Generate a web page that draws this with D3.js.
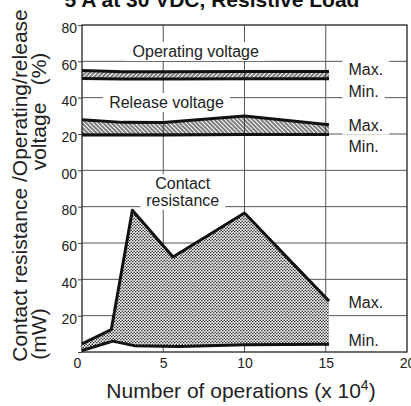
<!DOCTYPE html>
<html>
<head>
<meta charset="utf-8">
<script src="https://cdn.jsdelivr.net/npm/d3@7"></script>
<style>
  body { margin: 0; background: #fff; }
  svg { display: block; font-family: Arial, "Liberation Sans", Helvetica, sans-serif; }
  .tick text { font-family: "Liberation Sans Narrow", "Arial Narrow", sans-serif; font-size: 14px; fill: #222; }
</style>
</head>
<body>
<svg id="chart" width="411" height="406"></svg>
<script>
// number of operations (x 10^4) for the voltage bands
const voltX = [0, 2.5, 5, 10, 15.2];
const operatingMax = [55.0, 54.2, 54.3, 54.4, 54.4];
const operatingMin = [50.5, 50.3, 50.3, 50.4, 50.4];
const releaseMax = [27.8, 26.4, 26.3, 29.9, 25.1];
const releaseMin = [19.5, 19.4, 19.5, 19.7, 19.7];

// contact resistance (mW)
const contactMaxX = [0, 1.8, 3.1, 5.6, 10, 15.2];
const contactMax = [4.5, 12.3, 78, 52.3, 76.5, 28];
const contactMinX = [0, 1.9, 3.2, 6, 10, 15.2];
const contactMin = [0.8, 6, 3.5, 3, 4, 4.3];

const xTicks = [0, 5, 10, 15, 20];
const yTicks = [0, 20, 40, 60, 80, 100, 120, 140, 160, 180];
const yTickLabels = ["", "20", "40", "60", "80", "00", "20", "40", "60", "80"];

// voltage % sits on top of the resistance scale, shifted by 100
const VOLT_OFFSET = 100;

const svg = d3.select("#chart");

const x = d3.scaleLinear().domain([0, 20]).range([82, 407]);
const y = d3.scaleLinear().domain([0, 180]).range([352, 25]);
const yV = v => y(v + VOLT_OFFSET);

// patterns
const defs = svg.append("defs");
defs.append("pattern")
    .attr("id", "hatchUp")
    .attr("patternUnits", "userSpaceOnUse")
    .attr("width", 3).attr("height", 3)
    .attr("patternTransform", "rotate(45)")
  .append("line")
    .attr("x1", 1).attr("y1", 0).attr("x2", 1).attr("y2", 3)
    .attr("stroke", "#111").attr("stroke-width", 1.1);
defs.append("pattern")
    .attr("id", "hatchDown")
    .attr("patternUnits", "userSpaceOnUse")
    .attr("width", 3).attr("height", 3)
    .attr("patternTransform", "rotate(-45)")
  .append("line")
    .attr("x1", 1).attr("y1", 0).attr("x2", 1).attr("y2", 3)
    .attr("stroke", "#111").attr("stroke-width", 1.1);
let dots = defs.append("pattern")
    .attr("id", "stipple")
    .attr("patternUnits", "userSpaceOnUse")
    .attr("width", 3).attr("height", 3);
dots.append("rect").attr("width", 3).attr("height", 3).attr("fill", "#fff");
dots.append("circle").attr("cx", 0.75).attr("cy", 0.75).attr("r", 0.8).attr("fill", "#222");
dots.append("circle").attr("cx", 2.25).attr("cy", 2.25).attr("r", 0.8).attr("fill", "#222");

// grid
const grid = svg.append("g").attr("stroke", "#555").attr("stroke-width", 1);
grid.selectAll(".h")
  .data(yTicks.slice(1, -1))
  .enter().append("line")
    .attr("x1", x(0)).attr("x2", x(20))
    .attr("y1", d => y(d)).attr("y2", d => y(d));
grid.selectAll(".v")
  .data(xTicks.slice(1, -1))
  .enter().append("line")
    .attr("x1", d => x(d)).attr("x2", d => x(d))
    .attr("y1", y(0)).attr("y2", y(180));

svg.append("rect")
    .attr("x", x(0)).attr("y", y(180))
    .attr("width", x(20) - x(0)).attr("height", y(0) - y(180))
    .attr("fill", "none").attr("stroke", "#222").attr("stroke-width", 1.3);

// axes
const yAxis = svg.append("g")
    .attr("transform", `translate(${x(0)},0)`)
    .call(d3.axisLeft(y).tickValues(yTicks)
      .tickFormat((d, i) => yTickLabels[i]).tickSize(4).tickPadding(1));
yAxis.select(".domain").remove();
yAxis.selectAll(".tick line").attr("stroke", "#444");
yAxis.selectAll(".tick text").attr("transform", "translate(0,3.5)");

const xAxis = svg.append("g")
    .attr("transform", `translate(0,${y(0)})`)
    .call(d3.axisBottom(x).tickValues(xTicks).tickFormat(d3.format("d")).tickSize(0).tickPadding(6));
xAxis.select(".domain").remove();
xAxis.selectAll(".tick text").attr("dx", d => d === 0 ? -5 : 0);

// in-plot labels with white boxes
function label(lines, px, py, anchor) {
  const g = svg.append("g");
  const t = g.append("text")
      .attr("font-size", 16).attr("fill", "#222")
      .attr("text-anchor", anchor);
  lines.forEach((s, i) => {
    t.append("tspan").attr("x", px).attr("y", py + i * 16.5).text(s);
  });
  const b = t.node().getBBox();
  g.insert("rect", "text")
      .attr("x", b.x - 6).attr("y", b.y - 1)
      .attr("width", b.width + 12).attr("height", b.height + 2)
      .attr("fill", "#fff");
}
label(["Operating voltage"], x(7), yV(62.4), "middle");
label(["Release voltage"], x(5.2), yV(34.3), "middle");
label(["Contact", "resistance"], x(6.2), y(89.6), "middle");
label(["Max."], x(16.4), yV(52.5), "start");
label(["Min."], x(16.4), yV(40.1), "start");
label(["Max."], x(16.4), yV(21.9), "start");
label(["Min."], x(16.4), yV(10.3), "start");
label(["Max."], x(16.4), y(24.4), "start");
label(["Min."], x(16.4), y(3.3), "start");

// voltage bands
function band(maxV, minV, fill) {
  const pts = voltX.map((d, i) => ({ x: d, hi: maxV[i], lo: minV[i] }));
  svg.append("path")
      .datum(pts)
      .attr("fill", fill)
      .attr("d", d3.area().x(d => x(d.x)).y0(d => yV(d.lo)).y1(d => yV(d.hi)));
  [maxV, minV].forEach(vals => {
    svg.append("path")
        .datum(voltX.map((d, i) => [d, vals[i]]))
        .attr("fill", "none").attr("stroke", "#111").attr("stroke-width", 3)
        .attr("stroke-linejoin", "round")
        .attr("d", d3.line().x(d => x(d[0])).y(d => yV(d[1])));
  });
}
band(operatingMax, operatingMin, "url(#hatchUp)");
band(releaseMax, releaseMin, "url(#hatchDown)");

// contact resistance
const maxPts = contactMaxX.map((d, i) => [d, contactMax[i]]);
const minPts = contactMinX.map((d, i) => [d, contactMin[i]]);
const cLine = d3.line().x(d => x(d[0])).y(d => y(d[1]));
svg.append("path")
    .attr("fill", "url(#stipple)")
    .attr("d", cLine(maxPts.concat(minPts.slice().reverse())) + "Z");
[maxPts, minPts].forEach(pts => {
  svg.append("path")
      .attr("fill", "none").attr("stroke", "#111").attr("stroke-width", 3)
      .attr("stroke-linejoin", "round")
      .attr("d", cLine(pts));
});

// titles
svg.append("text")
    .attr("x", 212).attr("y", 7)
    .attr("text-anchor", "middle")
    .attr("font-size", 21).attr("font-weight", "bold").attr("fill", "#111")
    .text("5 A at 30 VDC, Resistive Load");

const xl = svg.append("text")
    .attr("x", 241).attr("y", 398)
    .attr("text-anchor", "middle")
    .attr("font-size", 21).attr("fill", "#222");
xl.append("tspan").text("Number of operations (x 10");
xl.append("tspan").attr("font-size", 14).attr("dy", -8).text("4");
xl.append("tspan").attr("dy", 8).text(")");

svg.append("text")
    .attr("transform", "translate(27,185.5) rotate(-90)")
    .attr("text-anchor", "middle")
    .attr("font-size", 21).attr("fill", "#222")
    .text("Contact resistance /Operating/release");
svg.append("text")
    .attr("transform", "translate(46,334) rotate(-90)")
    .attr("text-anchor", "middle")
    .attr("font-size", 21).attr("fill", "#222")
    .text("(mW)");
svg.append("text")
    .attr("transform", "translate(46,136.5) rotate(-90)")
    .attr("text-anchor", "middle")
    .attr("font-size", 21).attr("fill", "#222")
    .text("voltage");
svg.append("text")
    .attr("transform", "translate(46,69) rotate(-90)")
    .attr("text-anchor", "middle")
    .attr("font-size", 21).attr("fill", "#222")
    .text("(%)");
</script>
</body>
</html>
